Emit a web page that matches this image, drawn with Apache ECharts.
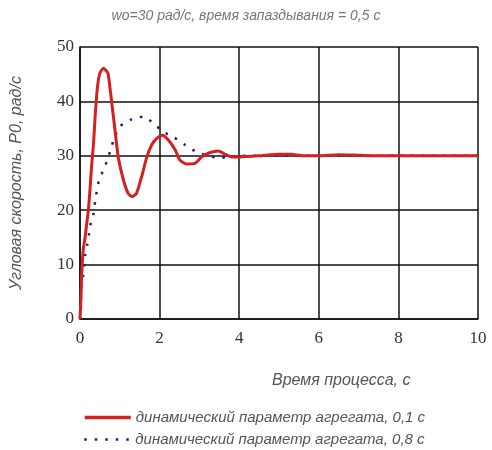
<!DOCTYPE html>
<html><head><meta charset="utf-8">
<script src="https://cdn.jsdelivr.net/npm/echarts@6/dist/echarts.min.js"></script>
<style>html,body{margin:0;padding:0;background:#fff}#c{width:492px;height:450px}</style>
</head><body><div id="c"></div>
<script>
var titleText = "wo=30 рад/с, время запаздывания = 0,5 с";
var xName = "Время процесса, с";
var yName = "Угловая скорость, Р0, рад/с";
var seriesNames = ["динамический параметр агрегата, 0,1 с", "динамический параметр агрегата, 0,8 с"];
var xTicks = [0, 2, 4, 6, 8, 10];
var yTicks = [0, 10, 20, 30, 40, 50];

var redT = [0, 0.025, 0.04, 0.08, 0.13, 0.17, 0.21, 0.25, 0.29, 0.34, 0.38, 0.44, 0.5, 0.59, 0.7, 0.75, 0.81, 0.88, 0.96, 1.09, 1.21, 1.31, 1.42, 1.55, 1.68, 1.8, 1.93, 2.07, 2.22, 2.39, 2.51, 2.68, 2.89, 3.06, 3.27, 3.48, 3.64, 3.81, 4.02, 4.5, 5.0, 5.3, 5.6, 6.0, 6.5, 7.0, 7.5, 8.0, 9.0, 10.0];
var redY = [0, 4.1, 7.8, 12.7, 15.1, 17.6, 20, 23.7, 28, 32.3, 37.2, 42.7, 45.2, 46.1, 45.2, 42.7, 39, 34.7, 29.8, 25.6, 23.1, 22.5, 23.1, 26.2, 29.8, 32, 33.2, 33.8, 32.9, 31.1, 29.2, 28.5, 28.6, 29.8, 30.6, 30.9, 30.3, 29.8, 29.8, 30.0, 30.3, 30.3, 30.0, 30.0, 30.2, 30.1, 30.0, 30.0, 30.0, 30.0];

var blueT = [0, 0.02, 0.025, 0.04, 0.06, 0.13, 0.18, 0.23, 0.27, 0.34, 0.38, 0.42, 0.48, 0.59, 0.7, 0.77, 0.86, 1.0, 1.3, 1.59, 1.84, 2.09, 2.36, 2.64, 2.93, 3.18, 3.48, 3.73, 4.0, 5.0, 6.0, 7.0, 8.0, 9.0, 10.0];
var blueY = [0, 1, 4.1, 6, 6.6, 11.8, 13.6, 15.7, 17.6, 19.4, 21.6, 23.4, 25.6, 27.4, 29.5, 31.2, 33.2, 35.4, 36.7, 37.2, 36, 34.4, 33.4, 32, 30.7, 30.1, 29.6, 29.8, 30, 30, 30, 30, 30, 30, 30];

function pairs(t, y) { return t.map(function (v, i) { return [v, y[i]]; }); }

var italicFont = "Liberation Sans";
var legendText = {fontFamily: italicFont, fontStyle: 'italic', fontSize: 15, color: '#555'};
var chart = echarts.init(document.getElementById('c'), null, {renderer: 'canvas'});
chart.setOption({
  animation: false,
  backgroundColor: '#fff',
  title: {
    text: titleText, left: 'center', top: 4,
    textStyle: {fontFamily: italicFont, fontStyle: 'italic', fontWeight: 'normal', fontSize: 14, color: '#777'}
  },
  grid: {left: 80, top: 47, width: 398, height: 272, containLabel: false},
  xAxis: {
    type: 'value', min: 0, max: 10, interval: 2,
    axisLine: {show: true, lineStyle: {color: '#111', width: 1.5}},
    axisTick: {show: false},
    splitLine: {show: true, lineStyle: {color: '#111', width: 1.5}},
    axisLabel: {fontFamily: 'Liberation Serif', fontSize: 17, color: '#333', margin: 11,
      formatter: function (v) { return xTicks.indexOf(v) >= 0 ? String(v) : ''; }}
  },
  yAxis: {
    type: 'value', min: 0, max: 50, interval: 10,
    name: yName, nameLocation: 'middle', nameGap: 55, nameRotate: 90,
    nameTextStyle: {fontFamily: italicFont, fontStyle: 'italic', fontSize: 16, color: '#555'},
    axisLine: {show: true, lineStyle: {color: '#111', width: 1.5}},
    axisTick: {show: false},
    splitLine: {show: true, lineStyle: {color: '#111', width: 1.5}},
    axisLabel: {fontFamily: 'Liberation Serif', fontSize: 17, color: '#333', margin: 6,
      formatter: function (v) { return yTicks.indexOf(v) >= 0 ? String(v) : ''; }}
  },
  legend: [{
    left: 78, top: 405, itemWidth: 46, itemHeight: 14, itemGap: 4,
    itemStyle: {opacity: 0}, lineStyle: {width: 3.5},
    textStyle: legendText, data: [seriesNames[0]]
  }, {
    left: 78, top: 427, itemWidth: 46, itemHeight: 14, itemGap: 4,
    itemStyle: {opacity: 0}, lineStyle: {width: 2.5},
    textStyle: legendText, data: [seriesNames[1]]
  }],
  graphic: [{
    type: 'text', left: 272, top: 373,
    style: {text: xName, font: 'italic 16px "Liberation Sans"', fill: '#555'}
  }],
  series: [{
    name: seriesNames[1], type: 'line', data: pairs(blueT, blueY), showSymbol: false, smooth: 0.2,
    symbol: 'none',
    lineStyle: {color: '#1a1f7a', width: 2.5, type: [2.5, 8]}, itemStyle: {color: '#1a1f7a'}, z: 2
  }, {
    name: seriesNames[0], type: 'line', data: pairs(redT, redY), showSymbol: false, smooth: 0.2,
    symbol: 'none',
    lineStyle: {color: '#d42020', width: 3}, itemStyle: {color: '#d42020'}, z: 3
  }]
});
</script></body></html>
